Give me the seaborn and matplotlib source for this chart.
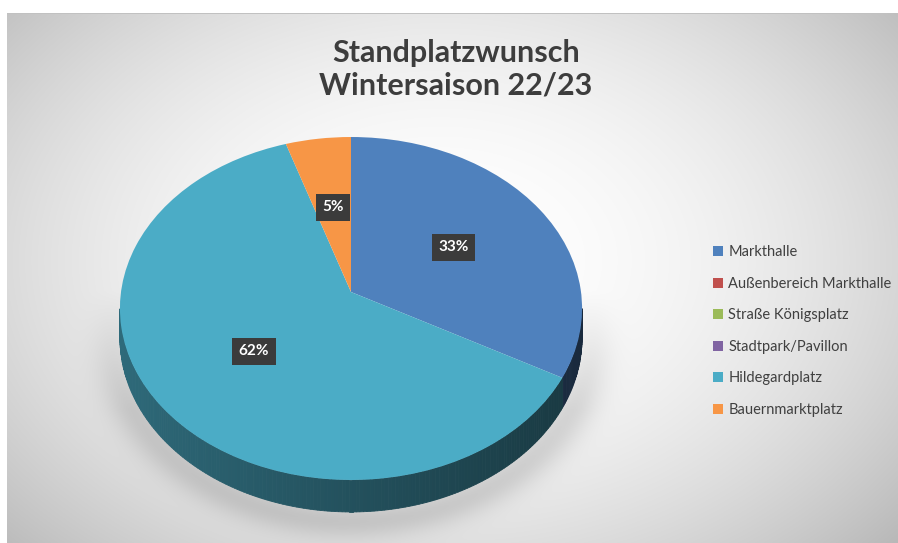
import numpy as np
import matplotlib
matplotlib.use("Agg")
import matplotlib.pyplot as plt
import matplotlib.colors as mcolors
import matplotlib.transforms as mtransforms
from matplotlib.patches import Patch, Polygon
import seaborn as sns

# ---- data ----
categories = ["Markthalle", "Außenbereich Markthalle", "Straße Königsplatz",
              "Stadtpark/Pavillon", "Hildegardplatz", "Bauernmarktplatz"]
values = [33, 0, 0, 0, 62, 5]
palette = ["#4F81BD", "#C0504D", "#9BBB59", "#8064A2", "#4BACC6", "#F79646"]
title = "Standplatzwunsch\nWintersaison 22/23"

sns.set_theme(style="white")
plt.rcParams["font.family"] = ["Lato", "DejaVu Sans"]
colors = sns.color_palette(palette)

W, H = 898, 543
fig = plt.figure(figsize=(W / 100, H / 100), dpi=100)

# ---- background with radial gradient and soft shadow ----
bg = fig.add_axes([0, 0, 1, 1])
bg.axis("off")
yy, xx = np.mgrid[0:H, 0:W]
r = np.sqrt(((xx - 440) / 600) ** 2 + ((yy - 260) / 420) ** 2)
val = 1.0 - 0.27 * np.clip(r, 0, 1.2) ** 2
e = np.sqrt(((xx - 352) / 238) ** 2 + ((yy - 335) / 185) ** 2)
shadow = 0.12 * np.exp(-(((e - 1.0) / 0.10) ** 2)) * np.clip((yy - 290) / 120, 0, 1)
val = np.clip(val - shadow, 0, 1)
val[13, :] = np.minimum(val[13, :], 0.76)
val[:13, :] = 1.0
val[:, :7] = 1.0
bg.imshow(np.dstack([val] * 3), extent=[0, W, H, 0], aspect="auto", interpolation="bilinear")
bg.set_xlim(0, W)
bg.set_ylim(H, 0)

# ---- perspective projection for the 3D pie ----
CX, CY = 351.0, 292.0      # projected pie centre (pixels)
K = 0.0962                 # perspective strength
A, B = 230.0, 169.9        # horizontal / vertical scale
DROP = 28.9                # side wall height


class Persp(mtransforms.Transform):
    input_dims = 2
    output_dims = 2
    is_separable = False
    has_inverse = False

    def transform_non_affine(self, v):
        v = np.asarray(v, float).reshape(-1, 2)
        x, y = v[:, 0], v[:, 1]
        w = 1 + K * y
        return np.column_stack([CX + A * x / w, CY - B * y / w])


def proj(x, y, drop=0.0):
    w = 1 + K * y
    return CX + A * x / w, CY - B * y / w + drop / w


ax = fig.add_axes([0, 0, 1, 1])
wedges, texts, autotexts = ax.pie(
    values, colors=colors, startangle=90, counterclock=False,
    autopct=lambda p: f"{p:.0f}%" if p > 0.5 else "",
    pctdistance=0.53, wedgeprops=dict(linewidth=0),
    textprops=dict(color="white", fontsize=11, fontweight="bold"))
ax.set_aspect("auto")
ax.set_xlim(0, W)
ax.set_ylim(H, 0)
ax.axis("off")

persp = Persp() + ax.transData
for w in wedges:
    w.set_transform(persp)
    w.set_zorder(3)

# side wall, visible where the rim faces the viewer
tmin, tmax = 180 + np.degrees(np.arcsin(K)), 360 - np.degrees(np.arcsin(K))
for w, c in zip(wedges, colors):
    t1, t2 = w.theta1, w.theta2
    if t2 - t1 <= 0:
        continue
    ts = np.linspace(t1, t2, max(2, int((t2 - t1) / 0.8) + 1))
    for a, b in zip(ts[:-1], ts[1:]):
        m = ((a + b) / 2) % 360
        if not (tmin <= m <= tmax):
            continue
        ar, br = np.radians(a), np.radians(b)
        f = 0.47 - 0.15 * np.cos(np.radians(m))
        col = tuple(np.array(mcolors.to_rgb(c)) * f)
        p1 = proj(np.cos(ar), np.sin(ar))
        p2 = proj(np.cos(br), np.sin(br))
        p3 = proj(np.cos(br), np.sin(br), DROP)
        p4 = proj(np.cos(ar), np.sin(ar), DROP)
        ax.add_patch(Polygon([p1, p2, p3, p4], closed=True, facecolor=col,
                             edgecolor=col, linewidth=0.6, zorder=2))

for t in autotexts:
    t.set_transform(persp)
    t.set_zorder(5)
    t.set_bbox(dict(boxstyle="square,pad=0.42", facecolor="#3B3B3B", edgecolor="none"))

# ---- title ----
fig.text(456 / W, 1 - 69 / H, title, ha="center", va="center", fontsize=22,
         fontweight="bold", color="#3D3D3D", linespacing=1.2)

# ---- legend ----
handles = [Patch(facecolor=c, edgecolor="none") for c in colors]
fig.legend(handles, categories, loc="center left", bbox_to_anchor=(700 / W, 1 - 331 / H),
           frameon=False, labelspacing=1.2, handlelength=0.7, handleheight=0.7,
           handletextpad=0.35, fontsize=10.5, labelcolor="#404040")

fig.savefig("out.png", dpi=100)
